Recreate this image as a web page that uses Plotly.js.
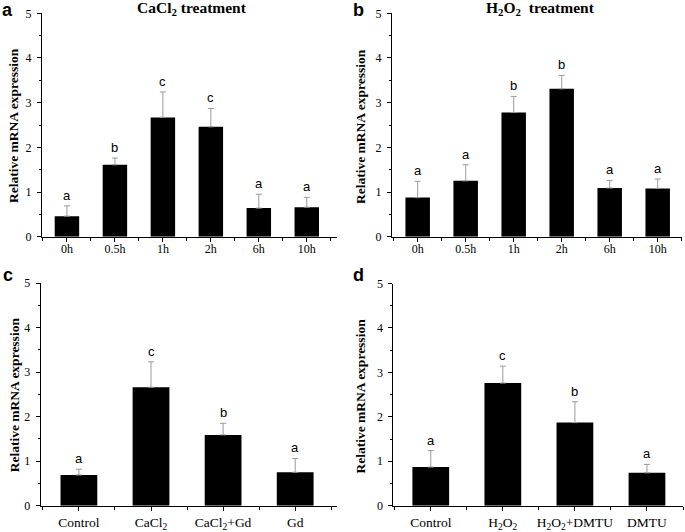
<!DOCTYPE html>
<html>
<head>
<meta charset="utf-8">
<script src="https://cdn.plot.ly/plotly-3.0.1.min.js"></script>
<style>html,body{margin:0;padding:0;background:#fff}#chart{width:685px;height:532px}</style>
</head>
<body>
<div id="chart"></div>
<script>
// ---- data ----
const timeLabels = ["0h", "0.5h", "1h", "2h", "6h", "10h"];
const cacl2Values = [0.46, 1.61, 2.67, 2.46, 0.64, 0.66];
const cacl2Errors = [0.23, 0.15, 0.57, 0.41, 0.31, 0.22];
const cacl2Letters = ["a", "b", "c", "c", "a", "a"];

const h2o2Values = [0.875, 1.25, 2.78, 3.31, 1.09, 1.08];
const h2o2Errors = [0.365, 0.36, 0.36, 0.30, 0.17, 0.21];
const h2o2Letters = ["a", "a", "b", "b", "a", "a"];

const gdLabels = ["Control", "CaCl<sub>2</sub>", "CaCl<sub>2</sub>+Gd", "Gd"];
const gdValues = [0.69, 2.66, 1.59, 0.75];
const gdErrors = [0.13, 0.57, 0.26, 0.31];
const gdLetters = ["a", "c", "b", "a"];

const dmtuLabels = ["Control", "H<sub>2</sub>O<sub>2</sub>", "H<sub>2</sub>O<sub>2</sub>+DMTU", "DMTU"];
const dmtuValues = [0.87, 2.76, 1.87, 0.74];
const dmtuErrors = [0.37, 0.38, 0.47, 0.19];
const dmtuLetters = ["a", "c", "b", "a"];

const yTitle = "Relative mRNA expression";
const panelTitles = ["CaCl<sub>2</sub> treatment", "H<sub>2</sub>O<sub>2</sub>&nbsp;&nbsp;treatment"];
const panelLetters = ["a", "b", "c", "d"];

// ---- layout helpers ----
const W = 685, H = 532;
const px = v => v / W;
const py = v => 1 - v / H;
const serif = "Liberation Serif, Times New Roman, serif";
const sans = "Liberation Sans, Arial, sans-serif";

const panels = [
  {labels: timeLabels, vals: cacl2Values, errs: cacl2Errors, letters: cacl2Letters,
   x0: 42, x1: 337, yb: 236.7, yt: 13.3, xr: [-0.52, 5.63], tf: 12, so: -3},
  {labels: timeLabels, vals: h2o2Values, errs: h2o2Errors, letters: h2o2Letters,
   x0: 392, x1: 681.7, yb: 236.7, yt: 13.3, xr: [-0.535, 5.5], tf: 12, so: -3},
  {labels: gdLabels, vals: gdValues, errs: gdErrors, letters: gdLetters,
   x0: 40.7, x1: 337, yb: 505.7, yt: 283, xr: [-0.53, 3.58], tf: 13.5, so: 0},
  {labels: dmtuLabels, vals: dmtuValues, errs: dmtuErrors, letters: dmtuLetters,
   x0: 393.3, x1: 683, yb: 505.7, yt: 283.5, xr: [-0.52, 3.5], tf: 13.5, so: 0}
];

const data = [];
const layout = {
  width: W, height: H,
  margin: {l: 0, r: 0, t: 0, b: 0},
  paper_bgcolor: "#fff", plot_bgcolor: "#fff",
  showlegend: false,
  annotations: []
};

panels.forEach((p, i) => {
  const n = i + 1;
  const xa = n === 1 ? "x" : "x" + n;
  const ya = n === 1 ? "y" : "y" + n;
  const idx = p.labels.map((_, k) => k);
  data.push({
    type: "bar", x: idx, y: p.vals, xaxis: xa, yaxis: ya,
    width: 0.51,
    marker: {color: "#000", line: {width: 0}},
    error_y: {type: "data", symmetric: false, array: p.errs,
              arrayminus: p.vals.map(() => 0),
              color: "#9a9a9a", thickness: 1, width: 3},
    hoverinfo: "skip"
  });
  const xKey = n === 1 ? "xaxis" : "xaxis" + n;
  const yKey = n === 1 ? "yaxis" : "yaxis" + n;
  layout[xKey] = {
    domain: [px(p.x0), px(p.x1)], anchor: ya, range: p.xr,
    tickmode: "array", tickvals: idx, ticktext: p.labels,
    ticks: "outside", ticklen: 4, tickwidth: 1, tickcolor: "#000",
    ticklabelstandoff: p.so,
    minor: {tickmode: "linear", tick0: 0.5, dtick: 1, ticks: "outside", ticklen: 3, tickcolor: "#000"},
    showline: true, linecolor: "#000", linewidth: 1,
    showgrid: false, zeroline: false, fixedrange: true,
    tickfont: {family: serif, size: p.tf, color: "#000"}
  };
  layout[yKey] = {
    domain: [py(p.yb), py(p.yt)], anchor: xa, range: [0, 5],
    tickvals: [0, 1, 2, 3, 4, 5],
    ticks: "outside", ticklen: 4, tickwidth: 1, tickcolor: "#000",
    ticklabelstandoff: 3,
    minor: {tickmode: "linear", tick0: 0.5, dtick: 1, ticks: "outside", ticklen: 2, tickcolor: "#000"},
    showline: true, linecolor: "#000", linewidth: 1,
    showgrid: false, zeroline: false, fixedrange: true,
    tickfont: {family: serif, size: 12, color: "#000"}
  };
  // significance letters
  p.letters.forEach((L, k) => {
    layout.annotations.push({
      xref: xa, yref: ya, x: k, y: p.vals[k] + p.errs[k],
      text: L, showarrow: false, yanchor: "bottom", yshift: 1,
      font: {family: sans, size: 13, color: "#000"}
    });
  });
  // y-axis title
  const titleX = (i % 2 === 0) ? 14 : 361;
  layout.annotations.push({
    xref: "paper", yref: "paper", x: px(titleX), y: py((p.yb + p.yt) / 2 + 1),
    text: "<b>" + yTitle + "</b>", textangle: -90, showarrow: false,
    xanchor: "center", yanchor: "middle",
    font: {family: serif, size: 13.5, color: "#000"}
  });
  // panel letters
  const lx = (i % 2 === 0) ? 8 : 358;
  const ly = (i < 2) ? 10 : 275;
  layout.annotations.push({
    xref: "paper", yref: "paper", x: px(lx), y: py(ly),
    text: "<b>" + panelLetters[i] + "</b>", showarrow: false,
    xanchor: "center", yanchor: "middle",
    font: {family: sans, size: 18, color: "#000"}
  });
});

// panel titles
[[192, 0], [540, 1]].forEach(([cx, k]) => {
  layout.annotations.push({
    xref: "paper", yref: "paper", x: px(cx), y: py(9),
    text: "<b>" + panelTitles[k] + "</b>", showarrow: false,
    xanchor: "center", yanchor: "middle",
    font: {family: serif, size: 15.5, color: "#000"}
  });
});

Plotly.newPlot("chart", data, layout, {staticPlot: true, displayModeBar: false});
</script>
</body>
</html>
